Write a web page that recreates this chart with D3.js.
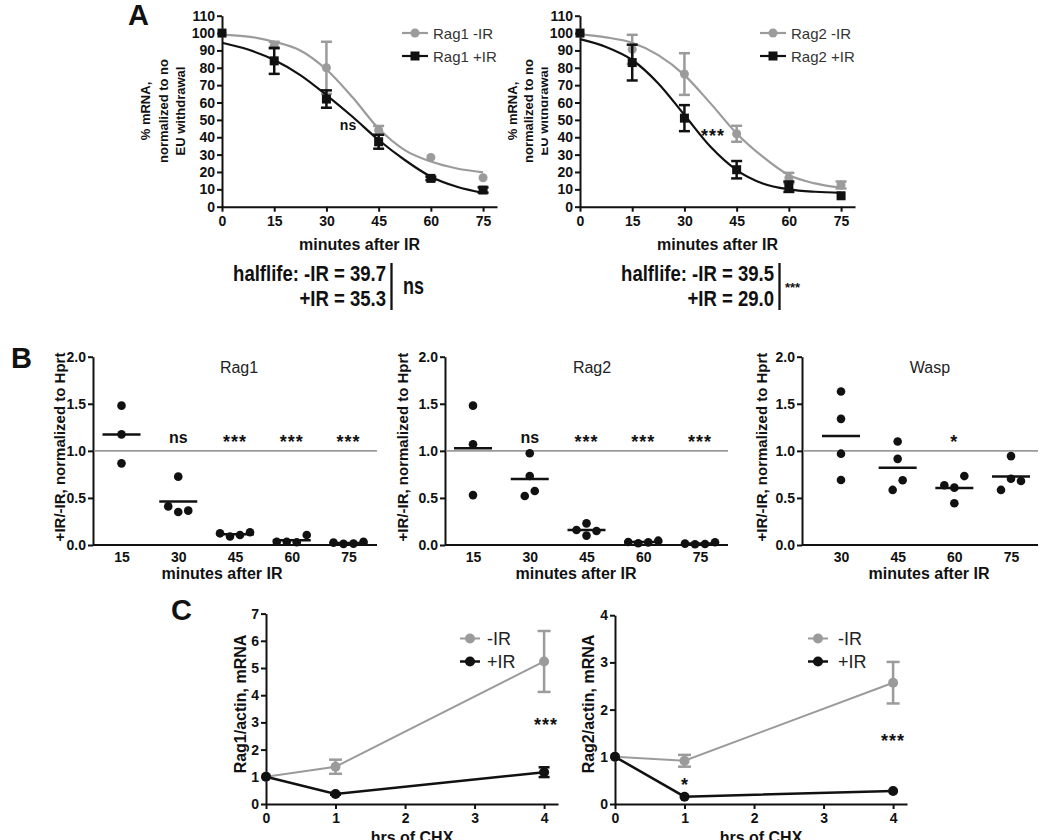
<!DOCTYPE html>
<html><head><meta charset="utf-8">
<script src="https://cdn.jsdelivr.net/npm/d3@7"></script>
<style>
body{margin:0;background:#fff}
svg{display:block}
</style></head><body>
<svg id="c" width="1050" height="840"></svg>
<script>
// ================= DATA =================
// Panel A : % mRNA after EU withdrawal
const minutesA = [0, 15, 30, 45, 60, 75];
const rag1MinusIR    = [100, 93, 80, 44, 28.4, 16.7];
const rag1MinusIRErr = [0, 2, 15, 2.5, 0, 0];
const rag1PlusIR     = [100, 84, 62, 37.4, 16.3, 9.6];
const rag1PlusIRErr  = [0, 7.5, 5, 4, 1, 1.5];
const rag2MinusIR    = [100, 90.6, 76.4, 42, 16.5, 12.5];
const rag2MinusIRErr = [0, 8.4, 12, 4.6, 3, 2];
const rag2PlusIR     = [100, 83, 51, 21.3, 11.5, 6.3];
const rag2PlusIRErr  = [0, 10.3, 7.5, 5, 3, 0];
// fitted decay curves
const fitMinutes = [0, 7.5, 15, 22.5, 30, 37.5, 45, 52.5, 60, 67.5, 75];
const rag1MinusFit = [99, 98, 95, 90, 79, 63, 45, 32.6, 26, 22, 19.8];
const rag1PlusFit  = [94.4, 90.5, 84.5, 75.8, 64.3, 51.8, 38.4, 26.9, 17.3, 11.5, 8];
const rag2MinusFit = [99.2, 97.5, 94.4, 87.3, 75.8, 59.5, 42.2, 28.8, 18.2, 13.4, 10.9];
const rag2PlusFit  = [96.5, 92, 84.5, 71, 52.8, 34.5, 21.1, 13.4, 10, 8.6, 8];
const yTicksA = [0, 10, 20, 30, 40, 50, 60, 70, 80, 90, 100, 110];
const halflifeRag1 = ["halflife: -IR = 39.7", "+IR = 35.3", "ns"];
const halflifeRag2 = ["halflife: -IR = 39.5", "+IR = 29.0", "***"];

// Panel B : +IR/-IR ratio
const minutesB = ["15", "30", "45", "60", "75"];
const minutesWasp = ["30", "45", "60", "75"];
const rag1Ratio = [[1.48, 1.175, 0.867], [0.726, 0.41, 0.35, 0.365], [0.124, 0.09, 0.106, 0.135], [0.035, 0.035, 0.03, 0.106], [0.025, 0.012, 0.015, 0.035]];
const rag2Ratio = [[1.48, 1.07, 0.53], [0.975, 0.733, 0.52, 0.573], [0.16, 0.23, 0.10, 0.149], [0.032, 0.018, 0.028, 0.046], [0.015, 0.008, 0.01, 0.03]];
const waspRatio = [[1.63, 1.34, 0.97, 0.69], [1.10, 0.915, 0.585, 0.687], [0.634, 0.609, 0.732, 0.444], [0.944, 0.585, 0.704, 0.68]];
const rag1Stars = ["", "ns", "***", "***", "***"];
const rag2Stars = ["", "ns", "***", "***", "***"];
const waspStars = ["", "", "*", ""];
const yTicksB = [0, 0.5, 1.0, 1.5, 2.0];

// Panel C : cycloheximide
const hrsCHX = [0, 1, 4];
const xTicksC = [0, 1, 2, 3, 4];
const rag1ActinMinus    = [1, 1.37, 5.24];
const rag1ActinMinusErr = [0, 0.26, 1.12];
const rag1ActinPlus     = [1, 0.37, 1.17];
const rag1ActinPlusErr  = [0, 0.03, 0.18];
const rag2ActinMinus    = [1, 0.916, 2.57];
const rag2ActinMinusErr = [0, 0.125, 0.44];
const rag2ActinPlus     = [1, 0.155, 0.275];
const rag2ActinPlusErr  = [0, 0, 0];

// ================= DRAWING =================
const FONT = "'Liberation Sans', Arial, Helvetica, sans-serif";
const GRAY = "#9b9b9b", BLACK = "#111";
const svg = d3.select("#c").attr("font-family", FONT);
svg.append("rect").attr("width", 1050).attr("height", 840).attr("fill", "#fff");

function txt(g, x, y, s, o = {}) {
  const t = g.append("text").attr("x", x).attr("y", y).text(s)
    .attr("font-size", o.size || 14).attr("font-weight", o.weight || "bold")
    .attr("fill", o.fill || BLACK).attr("text-anchor", o.anchor || "start");
  if (o.rot) t.attr("transform", `rotate(-90 ${x} ${y})`);
  if (o.ls) t.attr("letter-spacing", o.ls);
  if (o.dy) t.attr("dy", o.dy);
  return t;
}
// condensed text (narrow bold face of the original) drawn by horizontal scaling
function narrow(g, x, y, s, size, anchor, sx) {
  return g.append("g").attr("transform", `translate(${x},${y}) scale(${sx},1)`)
    .append("text").text(s).attr("font-size", size).attr("font-weight", "bold")
    .attr("fill", BLACK).attr("text-anchor", anchor);
}
function styleAxis(g) {
  g.attr("font-family", FONT).attr("font-size", 14).attr("font-weight", "bold");
  g.select("path.domain").attr("stroke", BLACK).attr("stroke-width", 2);
  g.selectAll(".tick line").attr("stroke", BLACK).attr("stroke-width", 2);
  g.selectAll(".tick text").attr("fill", BLACK);
}
function errBars(g, xs, ys, es, x, y, color, cap) {
  xs.forEach((xv, i) => {
    if (!es[i]) return;
    const cx = x(xv), y1 = y(ys[i] - es[i]), y2 = y(ys[i] + es[i]);
    g.append("line").attr("x1", cx).attr("x2", cx).attr("y1", y1).attr("y2", y2).attr("stroke", color).attr("stroke-width", 2.5);
    [y1, y2].forEach(yy => g.append("line").attr("x1", cx - cap / 2).attr("x2", cx + cap / 2).attr("y1", yy).attr("y2", yy).attr("stroke", color).attr("stroke-width", 2.5));
  });
}

// ---------- Panel A ----------
svg.append("defs").append("clipPath").attr("id", "clipEU")
  .attr("clipPathUnits", "userSpaceOnUse")
  .append("rect").attr("x", 541.5).attr("y", 0).attr("width", 20).attr("height", 240);

function drawA(o) {
  const g = svg.append("g");
  const x = d3.scaleLinear().domain([0, 79]).range([o.x0, o.x0 + 275]);
  const y = d3.scaleLinear().domain([0, 110]).range([206.7, 15.7]);
  // y label (under the axis)
  const labs = ["% mRNA,", "normalized to no", "EU withdrawal"];
  labs.forEach((s, i) => {
    const host = (o.clip && i === 2) ? g.append("g").attr("clip-path", "url(#clipEU)") : g;
    txt(host, o.ylabX[i], 111, s, { size: 13, anchor: "middle", rot: true, dy: "0.35em" });
  });
  const gx = g.append("g").attr("transform", `translate(0,${y(0)})`)
    .call(d3.axisBottom(x).tickValues(minutesA).tickFormat(d3.format("d")).tickSize(5).tickSizeOuter(0).tickPadding(4));
  styleAxis(gx);
  const gy = g.append("g").attr("transform", `translate(${x(0)},0)`)
    .call(d3.axisLeft(y).tickValues(yTicksA).tickFormat(d3.format("d")).tickSize(5).tickSizeOuter(0).tickPadding(2));
  styleAxis(gy);
  const line = d3.line().x((d, i) => x(fitMinutes[i])).y(d => y(d)).curve(d3.curveMonotoneX);
  // -IR gray
  g.append("path").attr("d", line(o.minusFit)).attr("fill", "none").attr("stroke", GRAY).attr("stroke-width", 2.2);
  errBars(g, minutesA, o.minus, o.minusErr, x, y, GRAY, 11);
  minutesA.forEach((m, i) => g.append("circle").attr("cx", x(m)).attr("cy", y(o.minus[i])).attr("r", 4.5).attr("fill", GRAY));
  // +IR black
  g.append("path").attr("d", line(o.plusFit)).attr("fill", "none").attr("stroke", BLACK).attr("stroke-width", 2.2);
  errBars(g, minutesA, o.plus, o.plusErr, x, y, BLACK, 11);
  minutesA.forEach((m, i) => g.append("rect").attr("x", x(m) - 4.5).attr("y", y(o.plus[i]) - 4.5).attr("width", 9).attr("height", 9).attr("fill", BLACK));
  // legend
  const lx = o.legX;
  g.append("line").attr("x1", lx).attr("x2", lx + 26).attr("y1", 33).attr("y2", 33).attr("stroke", GRAY).attr("stroke-width", 2.2);
  g.append("circle").attr("cx", lx + 13).attr("cy", 33).attr("r", 4.5).attr("fill", GRAY);
  g.append("line").attr("x1", lx).attr("x2", lx + 26).attr("y1", 56).attr("y2", 56).attr("stroke", BLACK).attr("stroke-width", 2.2);
  g.append("rect").attr("x", lx + 8.5).attr("y", 51.5).attr("width", 9).attr("height", 9).attr("fill", BLACK);
  txt(g, lx + 31, 38.5, o.names[0], { size: 15, weight: "normal", fill: "#333" });
  txt(g, lx + 31, 61.5, o.names[1], { size: 15, weight: "normal", fill: "#333" });
  // stat
  txt(g, o.statX, o.statY, o.stat, { size: o.stat === "ns" ? 14 : 18, anchor: "middle", ls: o.stat === "ns" ? 0 : 1 });
  // x title
  txt(g, (x.range()[0] + x.range()[1]) / 2, 250, "minutes after IR", { size: 16, anchor: "middle" });
  // halflife
  const hl = o.half, e = o.hlEnd;
  narrow(g, e, 281, hl[0], 22, "end", 0.843);
  narrow(g, e, 306, hl[1], 22, "end", 0.843);
  g.append("line").attr("x1", e + 5.5).attr("x2", e + 5.5).attr("y1", 263).attr("y2", 310).attr("stroke", BLACK).attr("stroke-width", 2.3);
  if (hl[2] === "ns") narrow(g, e + 17, 294, "ns", 23, "start", 0.78);
  else txt(g, e + 11, 292, hl[2], { size: 13 });
}
drawA({ x0: 222, minus: rag1MinusIR, minusErr: rag1MinusIRErr, plus: rag1PlusIR, plusErr: rag1PlusIRErr,
  minusFit: rag1MinusFit, plusFit: rag1PlusFit, legX: 402, names: ["Rag1 -IR", "Rag1 +IR"],
  stat: "ns", statX: 348, statY: 130, ylabX: [145, 163, 180], half: halflifeRag1, hlEnd: 386 });
drawA({ x0: 580, minus: rag2MinusIR, minusErr: rag2MinusIRErr, plus: rag2PlusIR, plusErr: rag2PlusIRErr,
  minusFit: rag2MinusFit, plusFit: rag2PlusFit, legX: 760, names: ["Rag2 -IR", "Rag2 +IR"],
  stat: "***", statX: 713, statY: 142, ylabX: [512, 528, 543], clip: true, half: halflifeRag2, hlEnd: 774 });

// ---------- Panel B ----------
function swarm(values, y, thr, step) {
  const n = values.length, py = values.map(v => y(v));
  const idx = d3.range(n).sort((a, b) => py[a] - py[b]);
  const clusters = []; let cur = [idx[0]];
  for (let k = 1; k < n; k++) {
    if (Math.abs(py[idx[k]] - py[idx[k - 1]]) < thr) cur.push(idx[k]);
    else { clusters.push(cur); cur = [idx[k]]; }
  }
  clusters.push(cur);
  const off = new Array(n).fill(0);
  clusters.forEach(c => {
    c.sort((a, b) => a - b);
    const cols = [], colOf = {};
    c.forEach(i => {
      let j = 0;
      while (j < cols.length && cols[j].some(k => Math.abs(py[k] - py[i]) < thr)) j++;
      if (j === cols.length) cols.push([]);
      cols[j].push(i); colOf[i] = j;
    });
    const K = cols.length;
    c.forEach(i => off[i] = (colOf[i] - (K - 1) / 2) * step);
  });
  return off;
}
function drawB(o) {
  const g = svg.append("g");
  const y = d3.scaleLinear().domain([0, 2]).range([545, 356.7]);
  const x = d3.scalePoint().domain(o.cats).range([o.first, o.last]);
  const gy = g.append("g").attr("transform", `translate(${o.ax0},0)`)
    .call(d3.axisLeft(y).tickValues(yTicksB).tickFormat(d3.format(".1f")).tickSize(5).tickSizeOuter(0).tickPadding(2));
  styleAxis(gy);
  const gx = g.append("g").attr("transform", `translate(0,${y(0)})`)
    .call(d3.axisBottom(x).tickSize(0).tickPadding(7));
  styleAxis(gx);
  gx.select("path.domain").remove();
  g.append("line").attr("x1", o.ax0).attr("x2", o.ax1).attr("y1", y(0)).attr("y2", y(0)).attr("stroke", BLACK).attr("stroke-width", 2);
  g.append("line").attr("x1", o.ax0 + 1).attr("x2", o.ax1).attr("y1", y(1)).attr("y2", y(1)).attr("stroke", GRAY).attr("stroke-width", 1.8);
  o.cats.forEach((c, i) => {
    const vals = o.data[i], cx = x(c);
    const off = swarm(vals, y, 12, 10);
    vals.forEach((v, k) => g.append("circle").attr("cx", cx + off[k]).attr("cy", y(v)).attr("r", 4.3).attr("fill", BLACK));
    const m = d3.mean(vals);
    g.append("line").attr("x1", cx - 19).attr("x2", cx + 19).attr("y1", y(m)).attr("y2", y(m)).attr("stroke", BLACK).attr("stroke-width", 2.5);
    const s = o.stars[i];
    if (s === "ns") txt(g, cx, 443, s, { size: 16, anchor: "middle" });
    else if (s) txt(g, cx, 448, s, { size: 18, anchor: "middle", ls: 1 });
  });
  txt(g, o.titleX, 373, o.title, { size: 16, weight: "normal", anchor: "middle", fill: "#222" });
  txt(g, o.ylabX, 447, "+IR/-IR, normalized to Hprt", { size: 15, anchor: "middle", rot: true, dy: "0.35em" });
  txt(g, o.xtX, 579, "minutes after IR", { size: 16, anchor: "middle" });
}
drawB({ cats: minutesB, data: rag1Ratio, stars: rag1Stars, ax0: 93, ax1: 377, first: 121.5, last: 348.5, title: "Rag1", titleX: 239, ylabX: 60, xtX: 222 });
drawB({ cats: minutesB, data: rag2Ratio, stars: rag2Stars, ax0: 445, ax1: 728, first: 473, last: 700, title: "Rag2", titleX: 592, ylabX: 403, xtX: 576 });
drawB({ cats: minutesWasp, data: waspRatio, stars: waspStars, ax0: 802, ax1: 1038, first: 841, last: 1011, title: "Wasp", titleX: 930, ylabX: 762, xtX: 929 });

// ---------- Panel C ----------
function drawC(o) {
  const g = svg.append("g");
  const x = d3.scaleLinear().domain([0, 4.2]).range([o.x0, o.x0 + 292]);
  const y = d3.scaleLinear().domain([0, o.ymax]).range([804, 804 - o.unit * o.ymax]);
  const gx = g.append("g").attr("transform", `translate(0,${y(0)})`)
    .call(d3.axisBottom(x).tickValues(xTicksC).tickFormat(d3.format("d")).tickSize(5).tickSizeOuter(0).tickPadding(4));
  styleAxis(gx);
  const gy = g.append("g").attr("transform", `translate(${x(0)},0)`)
    .call(d3.axisLeft(y).tickValues(d3.range(0, o.ymax + 1)).tickFormat(d3.format("d")).tickSize(5).tickSizeOuter(0).tickPadding(2));
  styleAxis(gy);
  const line = d3.line().x((d, i) => x(hrsCHX[i])).y(d => y(d));
  g.append("path").attr("d", line(o.minus)).attr("fill", "none").attr("stroke", GRAY).attr("stroke-width", 2);
  errBars(g, hrsCHX, o.minus, o.minusErr, x, y, GRAY, 13);
  hrsCHX.forEach((h, i) => g.append("circle").attr("cx", x(h)).attr("cy", y(o.minus[i])).attr("r", 5).attr("fill", GRAY));
  g.append("path").attr("d", line(o.plus)).attr("fill", "none").attr("stroke", BLACK).attr("stroke-width", 2.5);
  errBars(g, hrsCHX, o.plus, o.plusErr, x, y, BLACK, 11);
  hrsCHX.forEach((h, i) => g.append("circle").attr("cx", x(h)).attr("cy", y(o.plus[i])).attr("r", 5).attr("fill", BLACK));
  // legend
  const lx = o.legX;
  g.append("line").attr("x1", lx).attr("x2", lx + 20).attr("y1", 638.5).attr("y2", 638.5).attr("stroke", GRAY).attr("stroke-width", 2);
  g.append("circle").attr("cx", lx + 10).attr("cy", 638.5).attr("r", 5).attr("fill", GRAY);
  g.append("line").attr("x1", lx).attr("x2", lx + 20).attr("y1", 661.5).attr("y2", 661.5).attr("stroke", BLACK).attr("stroke-width", 2.5);
  g.append("circle").attr("cx", lx + 10).attr("cy", 661.5).attr("r", 5).attr("fill", BLACK);
  txt(g, o.legTextX, 645, "-IR", { size: 18, weight: "normal", fill: "#222" });
  txt(g, o.legTextX, 668, "+IR", { size: 18, weight: "normal", fill: "#222" });
  o.stars.forEach(s => txt(g, s[0], s[1], s[2], { size: 18, anchor: "middle", ls: 1 }));
  txt(g, o.ylabX, 704, o.ylab, { size: 16, anchor: "middle", rot: true, dy: "0.35em" });
  txt(g, (x.range()[0] + x.range()[1]) / 2, 843, "hrs of CHX", { size: 16, anchor: "middle" });
}
drawC({ x0: 266, ymax: 7, unit: 27.2, minus: rag1ActinMinus, minusErr: rag1ActinMinusErr, plus: rag1ActinPlus, plusErr: rag1ActinPlusErr,
  legX: 460, legTextX: 487, stars: [[546, 731, "***"]], ylab: "Rag1/actin, mRNA", ylabX: 240 });
drawC({ x0: 615, ymax: 4, unit: 47.2, minus: rag2ActinMinus, minusErr: rag2ActinMinusErr, plus: rag2ActinPlus, plusErr: rag2ActinPlusErr,
  legX: 808, legTextX: 838, stars: [[685, 791, "*"], [893, 747, "***"]], ylab: "Rag2/actin, mRNA", ylabX: 588 });

// ---------- Panel letters ----------
txt(svg, 128, 25, "A", { size: 29 });
txt(svg, 11, 368, "B", { size: 29 });
txt(svg, 171, 620, "C", { size: 29 });
</script>
</body></html>
